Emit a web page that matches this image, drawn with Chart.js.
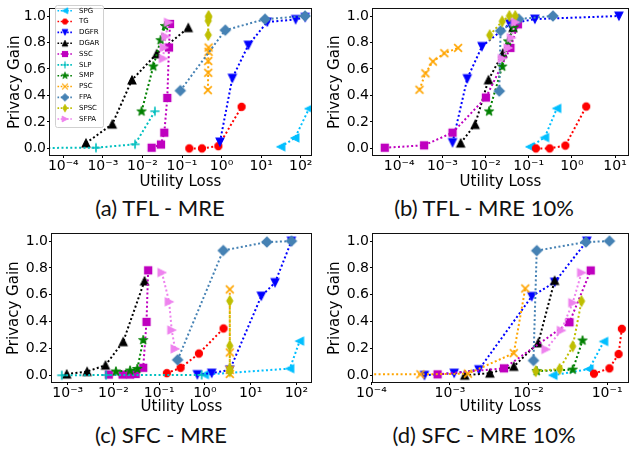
<!DOCTYPE html>
<html><head><meta charset="utf-8">
<script src="https://cdn.jsdelivr.net/npm/chart.js@4"></script>
<style>
html,body{margin:0;padding:0;background:#fff}
body{width:634px;height:452px;position:relative;overflow:hidden}
.wrap{position:absolute;width:317px;height:191px}
.cap{position:absolute;font-family:'Lato',sans-serif;font-size:22px;color:#111;transform:translate(-50%,-50%);white-space:nowrap}
</style></head><body>
<div class="wrap" style="left:0;top:0"><canvas id="ca" width="317" height="191"></canvas></div>
<div class="wrap" style="left:317px;top:0"><canvas id="cb" width="317" height="191"></canvas></div>
<div class="wrap" style="left:0;top:225px"><canvas id="cc" width="317" height="191"></canvas></div>
<div class="wrap" style="left:317px;top:225px"><canvas id="cd" width="317" height="191"></canvas></div>
<div class="cap" style="left:160px;top:207px">(a) TFL - MRE</div>
<div class="cap" style="left:484px;top:207px">(b) TFL - MRE 10%</div>
<div class="cap" style="left:161px;top:434px">(c) SFC - MRE</div>
<div class="cap" style="left:484px;top:434px">(d) SFC - MRE 10%</div>
<script>
// ---------- series names ----------
const SERIES = ['SPG','TG','DGFR','DGAR','SSC','SLP','SMP','PSC','FPA','SPSC','SFPA'];

// ---------- (a) TFL - MRE : [utility loss, privacy gain] ----------
const A_SPG  = [[31.6,0.012],[71.6,0.079],[162,0.30]];
const A_TG   = [[0.153,0.0],[0.32,0.0],[0.83,0.017],[3.21,0.314]];
const A_DGFR = [[0.91,0.048],[1.87,0.53],[4.74,0.78],[14.3,0.955],[74.6,0.974],[130,0.99]];
const A_DGAR = [[3.74e-4,0.04],[1.73e-3,0.183],[5.43e-3,0.517],[0.0229,0.714],[0.144,0.912]];
const A_SSC  = [[0.0171,0.005],[0.0294,0.029],[0.0357,0.119],[0.0425,0.381],[0.0469,0.762],[0.0497,0.94]];
const A_SLP  = [[1.5e-5,0.003],[6.7e-4,0.005],[6.5e-3,0.031],[0.0207,0.281]];
const A_SMP  = [[9.5e-3,0.279],[0.0188,0.619],[0.0288,0.817],[0.0371,0.924]];
const A_PSC  = [[0.45,0.44],[0.46,0.571],[0.46,0.66],[0.47,0.73],[0.47,0.762]];
const A_FPA  = [[0.0906,0.436],[1.24,0.893],[12.5,0.976],[128,1.0]];
const A_SPSC = [[0.46,0.857],[0.46,0.964],[0.47,0.99],[0.47,1.0]];
const A_SFPA = [[0.0337,0.679],[0.0351,0.762],[0.0386,0.845],[0.0453,0.952]];

// ---------- (b) TFL - MRE 10% ----------
const B_SPG  = [[0.107,0.012],[0.235,0.082],[0.449,0.302]];
const B_TG   = [[0.147,0.0],[0.306,0.0],[0.705,0.021],[2.15,0.316]];
const B_DGFR = [[1.72e-3,0.044],[3.77e-3,0.527],[8.26e-3,0.77],[0.0364,0.941],[0.139,0.977],[12.3,1.0]];
const B_DGAR = [[2.65e-3,0.04],[5.73e-3,0.18],[0.0117,0.518],[0.0252,0.719],[0.0432,0.913]];
const B_SSC  = [[4.64e-5,0.005],[3.77e-4,0.023],[1.72e-3,0.119],[0.0102,0.384],[0.0377,0.759],[0.0562,0.937]];
const B_SLP  = [];
const B_SMP  = [[0.0121,0.279],[0.0243,0.618],[0.0333,0.808],[0.0449,0.913]];
const B_PSC  = [[2.95e-4,0.443],[4.04e-4,0.567],[6.03e-4,0.656],[1.11e-3,0.719],[2.31e-3,0.759]];
const B_FPA  = [[0.0208,0.433],[0.0223,0.888],[0.0582,0.977],[0.364,1.0]];
const B_SPSC = [[0.0125,0.855],[0.0243,0.96],[0.0357,1.0],[0.0489,1.0]];
const B_SFPA = [[0.0243,0.679],[0.0333,0.759],[0.0396,0.836],[0.0489,0.953]];

// ---------- (c) SFC - MRE ----------
const C_SPG  = [[0.98,0.005],[72,0.05],[118,0.255]];
const C_TG   = [[0.147,0.016],[0.294,0.056],[0.74,0.162],[2.55,0.349]];
const C_DGFR = [[0.683,0.005],[1.41,0.016],[3.5,0.04],[17.1,0.59],[34.2,0.691],[78,1.0]];
const C_DGAR = [[9.5e-4,0.009],[2.65e-3,0.028],[6.68e-3,0.075],[0.0163,0.25],[0.0478,0.703]];
const C_SSC  = [[7.9e-3,0.005],[0.0158,0.005],[0.0231,0.005],[0.0306,0.01],[0.0447,0.056],[0.0528,0.398],[0.0573,0.782]];
const C_SLP  = [[7.4e-4,0.0],[6.9e-3,0.002],[0.85,0.003]];
const C_SMP  = [[0.0113,0.028],[0.0231,0.035],[0.0332,0.047],[0.0447,0.262]];
const C_PSC  = [[3.5,0.01],[3.5,0.04],[3.5,0.17],[3.5,0.64]];
const C_FPA  = [[0.253,0.115],[2.51,0.93],[22.6,0.993],[78,1.0]];
const C_SPSC = [[3.5,0.03],[3.5,0.05],[3.5,0.22],[3.5,0.555]];
const C_SFPA = [[0.1146,0.766],[0.165,0.548],[0.188,0.337],[0.222,0.197]];

// ---------- (d) SFC - MRE 10% ----------
const D_SPG  = [[0.0205,0.0],[0.059,0.047],[0.0908,0.252]];
const D_TG   = [[0.068,0.012],[0.107,0.052],[0.14,0.158],[0.154,0.346]];
const D_DGFR = [[4.73e-4,0.0],[1.13e-3,0.016],[2.33e-3,0.042],[0.011,0.588],[0.0215,0.694],[0.0552,1.0]];
const D_DGAR = [[1.54e-3,0.0],[3.22e-3,0.016],[6.49e-3,0.066],[0.0133,0.242],[0.0215,0.706]];
const D_SSC  = [[6.95e-4,0.007],[4.87e-3,0.052],[0.0332,0.395],[0.0619,0.781]];
const D_SLP  = [];
const D_SMP  = [[0.0127,0.031],[0.0365,0.042],[0.0487,0.259]];
const D_PSC  = [[5e-5,0.008],[4.2e-4,0.007],[1.69e-3,0.012],[6.49e-3,0.165],[9.08e-3,0.647]];
const D_FPA  = [[0.01155,0.11],[0.0127,0.929],[0.0536,0.993],[0.107,1.0]];
const D_SPSC = [[0.01236,0.031],[0.0249,0.047],[0.0365,0.216],[0.0473,0.553]];
const D_SFPA = [[0.0166,0.193],[0.0261,0.334],[0.0365,0.541],[0.0473,0.765]];

// ---------- tick values ----------
const X_TICKS_A = [1e-4,1e-3,1e-2,1e-1,1,10,100];
const X_TICKS_B = [1e-4,1e-3,1e-2,1e-1,1,10];
const X_TICKS_C = [1e-3,1e-2,1e-1,1,10,100];
const X_TICKS_D = [1e-4,1e-3,1e-2,1e-1];
const Y_TICKS   = [0,0.2,0.4,0.6,0.8,1.0];

// ---------- styles ----------
const COLORS  = ['#00BFFF','#FF0000','#0000FF','#000000','#BF00BF','#00BFBF','#008000','#FFA500','#4682B4','#BFBF00','#EE82EE'];
const MARKERS = ['left','circle','down','up','square','plus','star','x','diamond','thin','right'];

function makeMarker(kind, color, s) {
  const S = 16;
  const c = document.createElement('canvas'); c.width = S; c.height = S;
  const g = c.getContext('2d');
  g.translate(S/2, S/2); g.scale(s, s);
  g.fillStyle = color; g.strokeStyle = color; g.lineWidth = 1;
  const poly = (pts) => { g.beginPath(); pts.forEach((p,i)=> i? g.lineTo(p[0],p[1]) : g.moveTo(p[0],p[1])); g.closePath(); g.fill(); g.stroke(); };
  const tri = (rot) => { g.save(); g.rotate(rot); poly([[0,-3.4],[3.4,3.4],[-3.4,3.4]]); g.restore(); };
  switch (kind) {
    case 'circle': g.beginPath(); g.arc(0,0,3.1,0,Math.PI*2); g.fill(); g.stroke(); break;
    case 'up': tri(0); break;
    case 'down': tri(Math.PI); break;
    case 'left': tri(-Math.PI/2); break;
    case 'right': tri(Math.PI/2); break;
    case 'square': g.fillRect(-3.6,-3.6,7.2,7.2); break;
    case 'plus': g.lineWidth = 1.4; g.beginPath(); g.moveTo(-4,0); g.lineTo(4,0); g.moveTo(0,-4); g.lineTo(0,4); g.stroke(); break;
    case 'x': g.lineWidth = 1.4; g.beginPath(); g.moveTo(-3.4,-3.4); g.lineTo(3.4,3.4); g.moveTo(3.4,-3.4); g.lineTo(-3.4,3.4); g.stroke(); break;
    case 'star': {
      const pts = [];
      for (let k = 0; k < 10; k++) { const r = k % 2 ? 1.7 : 4.3; const a = -Math.PI/2 + k*Math.PI/5; pts.push([r*Math.cos(a), r*Math.sin(a)]); }
      g.lineWidth = 0.8; poly(pts); break;
    }
    case 'diamond': poly([[0,-4.4],[4.4,0],[0,4.4],[-4.4,0]]); break;
    case 'thin': poly([[0,-4.4],[2.6,0],[0,4.4],[-2.6,0]]); break;
  }
  return c;
}
const PLOT_MARKERS = MARKERS.map((m,i) => makeMarker(m, COLORS[i], 1.15));
const LEG_MARKERS  = MARKERS.map((m,i) => makeMarker(m, COLORS[i], 0.85));

const SUP = {'-':'\u207B','0':'\u2070','1':'\u00B9','2':'\u00B2','3':'\u00B3','4':'\u2074','5':'\u2075','6':'\u2076','7':'\u2077','8':'\u2078','9':'\u2079'};
const fmtPow = v => '10' + String(Math.round(Math.log10(v))).split('').map(ch => SUP[ch]).join('');

const framePlugin = {
  id: 'frame',
  afterDraw(chart) {
    const {left, top, right, bottom} = chart.chartArea;
    const ctx = chart.ctx;
    ctx.save(); ctx.strokeStyle = '#111'; ctx.lineWidth = 1;
    const l = Math.round(left) - 0.5, t = Math.round(top) - 0.5, r = Math.round(right) + 0.5, b = Math.round(bottom) + 0.5;
    ctx.strokeRect(l, t, r - l, b - t);
    ctx.restore();
  }
};

const legendPlugin = {
  id: 'boxLegend',
  afterDraw(chart) {
    const ctx = chart.ctx;
    ctx.save();
    const x0 = 55.5, y0 = 5.5, w = 48, h = 122, rr = 2;
    ctx.beginPath();
    ctx.moveTo(x0+rr, y0); ctx.lineTo(x0+w-rr, y0); ctx.quadraticCurveTo(x0+w, y0, x0+w, y0+rr);
    ctx.lineTo(x0+w, y0+h-rr); ctx.quadraticCurveTo(x0+w, y0+h, x0+w-rr, y0+h);
    ctx.lineTo(x0+rr, y0+h); ctx.quadraticCurveTo(x0, y0+h, x0, y0+h-rr);
    ctx.lineTo(x0, y0+rr); ctx.quadraticCurveTo(x0, y0, x0+rr, y0); ctx.closePath();
    ctx.fillStyle = 'rgba(255,255,255,0.8)'; ctx.fill();
    ctx.strokeStyle = '#d0d0d0'; ctx.lineWidth = 1; ctx.stroke();
    SERIES.forEach((name, i) => {
      const y = 10.7 + i * 10.83;
      ctx.strokeStyle = COLORS[i]; ctx.lineWidth = 1.6; ctx.setLineDash([1.6, 1.6]);
      ctx.beginPath(); ctx.moveTo(57.5, y); ctx.lineTo(72.5, y); ctx.stroke();
      ctx.setLineDash([]);
      const m = LEG_MARKERS[i];
      ctx.drawImage(m, 65 - m.width/2, y - m.height/2);
      ctx.fillStyle = '#000'; ctx.font = '7px "DejaVu Sans"'; ctx.textBaseline = 'middle'; ctx.textAlign = 'left';
      ctx.fillText(name, 79, y);
    });
    ctx.restore();
  }
};

const FONT = '"DejaVu Sans", sans-serif';

function build(id, sets, xmin, xmax, xticks, L) {
  const datasets = sets.map((arr, i) => ({
    label: SERIES[i],
    data: arr.map(p => ({x: p[0], y: p[1]})),
    borderColor: COLORS[i],
    backgroundColor: COLORS[i],
    borderWidth: 2,
    borderDash: [2, 2.4],
    pointStyle: PLOT_MARKERS[i],
    pointRadius: 4,
    fill: false,
    tension: 0,
    order: -i
  }));
  const plugins = [framePlugin];
  if (L.legend) plugins.push(legendPlugin);
  new Chart(document.getElementById(id), {
    type: 'line',
    data: { datasets },
    plugins,
    options: {
      responsive: false, animation: false, devicePixelRatio: 1, events: [],
      layout: { padding: L.pad },
      plugins: { legend: { display: false }, tooltip: { enabled: false } },
      scales: {
        x: {
          type: 'logarithmic', min: xmin, max: xmax,
          afterBuildTicks: ax => { ax.ticks = xticks.map(v => ({ value: v, major: true })); },
          afterFit: s => { s.height = L.xh; },
          ticks: { callback: v => fmtPow(v), font: { family: FONT, size: 14, lineHeight: 1 }, color: '#000', padding: 1, maxRotation: 0, autoSkip: false },
          grid: { display: true, drawOnChartArea: false, drawTicks: true, tickLength: 3, color: '#000' },
          border: { display: false },
          title: { display: true, text: 'Utility Loss', font: { family: FONT, size: 15 }, color: '#000', padding: { top: 0, bottom: 0 } }
        },
        y: {
          type: 'linear', min: -0.05, max: 1.05,
          afterBuildTicks: ax => { ax.ticks = Y_TICKS.map(v => ({ value: v })); },
          afterFit: s => { s.width = L.yw; },
          ticks: { callback: v => Number(v).toFixed(1), font: { family: FONT, size: 14 }, color: '#000', padding: 1 },
          grid: { display: true, drawOnChartArea: false, drawTicks: true, tickLength: 3, color: '#000' },
          border: { display: false },
          title: { display: true, text: 'Privacy Gain', font: { family: FONT, size: 15 }, color: '#000', padding: { top: L.tp, bottom: 0 } }
        }
      }
    }
  });
}

build('ca', [A_SPG,A_TG,A_DGFR,A_DGAR,A_SSC,A_SLP,A_SMP,A_PSC,A_FPA,A_SPSC,A_SFPA],
  Math.pow(10,-4.336), Math.pow(10,2.26), X_TICKS_A,
  { pad: {left:0, top:1, right:6, bottom:0}, xh: 36, yw: 50, tp: 6, legend: true });
build('cb', [B_SPG,B_TG,B_DGFR,B_DGAR,B_SSC,B_SLP,B_SMP,B_PSC,B_FPA,B_SPSC,B_SFPA],
  Math.pow(10,-4.607), Math.pow(10,1.30), X_TICKS_B,
  { pad: {left:0, top:1, right:1, bottom:0}, xh: 36, yw: 56, tp: 9 });
build('cc', [C_SPG,C_TG,C_DGFR,C_DGAR,C_SSC,C_SLP,C_SMP,C_PSC,C_FPA,C_SPSC,C_SFPA],
  Math.pow(10,-3.344), Math.pow(10,2.32), X_TICKS_C,
  { pad: {left:0, top:2, right:2, bottom:0}, xh: 34, yw: 52, tp: 5 });
build('cd', [D_SPG,D_TG,D_DGFR,D_DGAR,D_SSC,D_SLP,D_SMP,D_PSC,D_FPA,D_SPSC,D_SFPA],
  Math.pow(10,-3.98), Math.pow(10,-0.734), X_TICKS_D,
  { pad: {left:0, top:2, right:1, bottom:0}, xh: 34, yw: 56, tp: 9 });
</script>
</body></html>
